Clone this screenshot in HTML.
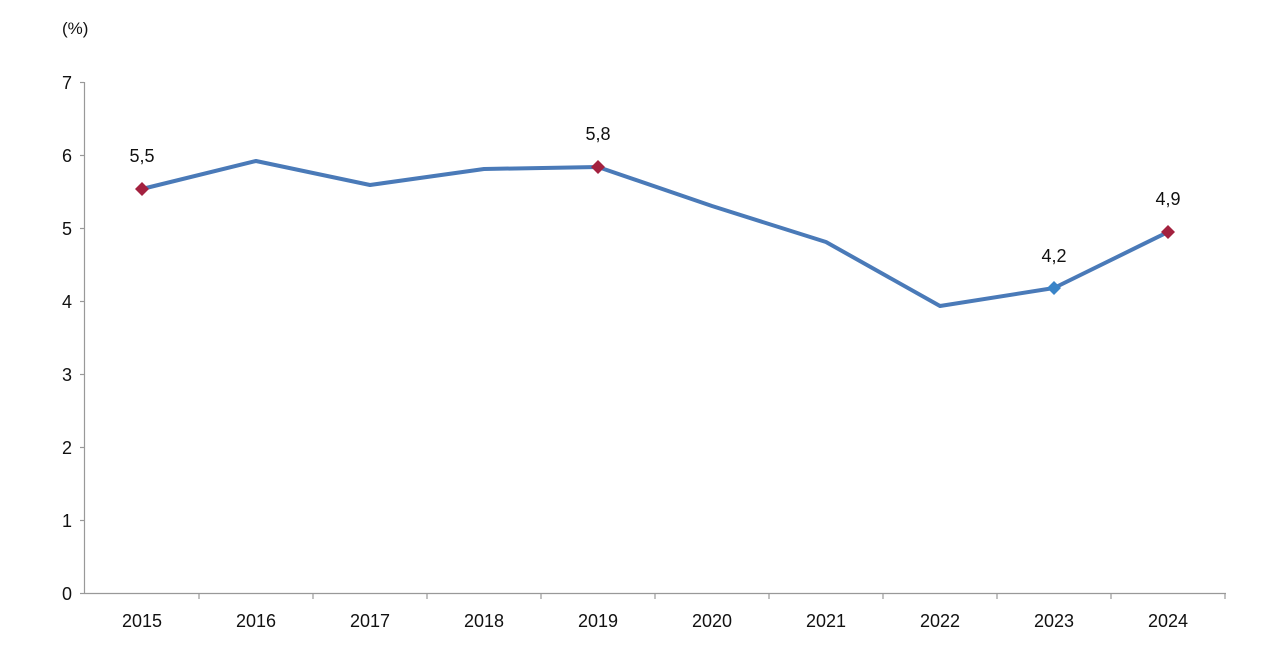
<!DOCTYPE html>
<html><head><meta charset="utf-8"><style>
html,body{margin:0;padding:0;background:#fff;}
svg{display:block;font-family:"Liberation Sans",Arial,sans-serif;}
</style></head><body>
<svg width="1280" height="662" viewBox="0 0 1280 662">
<g stroke="#999" stroke-width="1.2" fill="none">
<line x1="84.5" y1="82" x2="84.5" y2="594"/>
<line x1="84" y1="593.5" x2="1226" y2="593.5"/>
<line x1="80" y1="82.5" x2="84" y2="82.5"/>
<line x1="80" y1="155.5" x2="84" y2="155.5"/>
<line x1="80" y1="228.5" x2="84" y2="228.5"/>
<line x1="80" y1="301.5" x2="84" y2="301.5"/>
<line x1="80" y1="374.5" x2="84" y2="374.5"/>
<line x1="80" y1="447.5" x2="84" y2="447.5"/>
<line x1="80" y1="520.5" x2="84" y2="520.5"/>
<line x1="80" y1="593.5" x2="84" y2="593.5"/>
<line x1="199" y1="594" x2="199" y2="599"/>
<line x1="313" y1="594" x2="313" y2="599"/>
<line x1="427" y1="594" x2="427" y2="599"/>
<line x1="541" y1="594" x2="541" y2="599"/>
<line x1="655" y1="594" x2="655" y2="599"/>
<line x1="769" y1="594" x2="769" y2="599"/>
<line x1="883" y1="594" x2="883" y2="599"/>
<line x1="997" y1="594" x2="997" y2="599"/>
<line x1="1111" y1="594" x2="1111" y2="599"/>
<line x1="1225" y1="594" x2="1225" y2="599"/>
</g>
<g font-size="18" fill="#111" text-anchor="end">
<text x="72" y="89">7</text><text x="72" y="162">6</text><text x="72" y="235">5</text>
<text x="72" y="308">4</text><text x="72" y="381">3</text><text x="72" y="454">2</text>
<text x="72" y="527">1</text><text x="72" y="600">0</text>
</g>
<text x="62" y="34" font-size="17" fill="#111">(%)</text>
<g font-size="18" fill="#111" text-anchor="middle">
<text x="142" y="627">2015</text><text x="256" y="627">2016</text><text x="370" y="627">2017</text>
<text x="484" y="627">2018</text><text x="598" y="627">2019</text><text x="712" y="627">2020</text>
<text x="826" y="627">2021</text><text x="940" y="627">2022</text><text x="1054" y="627">2023</text>
<text x="1168" y="627">2024</text>
</g>
<polyline fill="none" stroke="#4a7ab8" stroke-width="4" stroke-linejoin="round"
points="142,189 256,161 370,185 484,169 598,167 712,206 826,242 940,306 1054,288 1168,232"/>
<g>
<polygon points="142,182 149,189 142,196 135,189" fill="#a3213f"/>
<polygon points="598,160 605,167 598,174 591,167" fill="#a3213f"/>
<polygon points="1054,281 1061,288 1054,295 1047,288" fill="#3a84c8"/>
<polygon points="1168,225 1175,232 1168,239 1161,232" fill="#a3213f"/>
</g>
<g font-size="18" fill="#111" text-anchor="middle">
<text x="142" y="162">5,5</text><text x="598" y="140">5,8</text>
<text x="1054" y="262">4,2</text><text x="1168" y="205">4,9</text>
</g>
</svg>
</body></html>
